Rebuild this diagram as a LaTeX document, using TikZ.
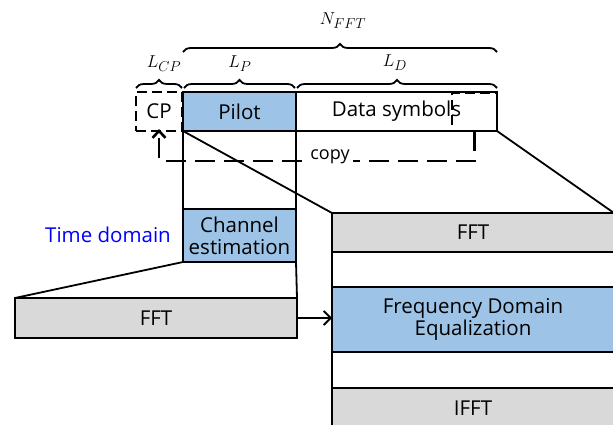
\documentclass[tikz,border=0pt]{standalone}
\usepackage{fontspec}
\newfontfamily\labfont{Open Sans}
\usetikzlibrary{decorations.pathreplacing,arrows.meta}
\definecolor{boxblue}{RGB}{157,195,230}
\definecolor{boxgray}{RGB}{217,217,217}
\begin{document}
\begin{tikzpicture}[x=1pt,y=-1pt,
  box/.style={draw, line width=1.8pt, inner sep=0pt, outer sep=0pt, anchor=north west,
    font=\labfont\fontsize{20.5}{22}\selectfont, align=center},
  dashbox/.style={draw, line width=2.4pt, dash pattern=on 10pt off 5pt, inner sep=0pt, outer sep=0pt, anchor=north west},
  conn/.style={line width=1.8pt},
  brc/.style={line width=1.8pt, decorate, decoration={brace, amplitude=8pt}},
  mlab/.style={font=\fontsize{19}{22}\selectfont}
]
\path[use as bounding box] (0,0) rectangle (613,425);
\clip (0,0) rectangle (613,425);
% top row
\node[box, dashbox, minimum width=46pt, minimum height=39pt, font=\labfont\fontsize{20.5}{22}\selectfont] (cp) at (136,92) {CP};
\node[box, fill=boxblue, minimum width=113pt, minimum height=39pt] (pilot) at (183,92) {Pilot};
\node[box, minimum width=201pt, minimum height=39pt] (data) at (296,92) {Data symbols};
\node[dashbox, minimum width=45pt, minimum height=38pt] (dcopy) at (452,93) {};
% braces
\draw[brc] (136,88) -- (182,88);
\draw[brc] (184,88) -- (295,88);
\draw[brc] (297,88) -- (497,88);
\draw[brc] (183,52) -- (497,52);
\node[mlab] (lcp) at (164,64) {$L_{CP}$};
\node[mlab] (lp) at (240,64) {$L_{P}$};
\node[mlab] (ld) at (395,63) {$L_{D}$};
\node[mlab] (nfft) at (343,21) {$N_{FFT}$};
% copy arrow
\coordinate (cy) at (0,161);
\draw[line width=2.6pt, dash pattern=on 20pt off 9pt, -{Straight Barb[length=7pt,width=13pt]}]
  (dcopy.south) -- (dcopy.south |- cy) -- (cp.south |- cy) -- ([yshift=2pt]cp.south);
\node[fill=white, inner sep=3pt, font=\labfont\fontsize{18}{20}\selectfont] (copy) at (330,157) {copy};
% time domain branch
\node[box, fill=boxblue, minimum width=113pt, minimum height=53pt] (chest) at (183,209) {Channel\\estimation};
\node[box, fill=boxgray, minimum width=282pt, minimum height=40pt] (fft1) at (15,298) {FFT};
\node[font=\labfont\fontsize{20.5}{22}\selectfont, text=blue] (td) at (108,235) {Time domain};
\draw[conn] (pilot.south west) -- (chest.north west);
\draw[conn] (pilot.south east) -- (chest.north east);
\draw[conn] (chest.south west) -- (fft1.north west);
\draw[conn] (chest.south east) -- (fft1.north east);
% frequency domain stack
\node[box, fill=boxgray, minimum width=282pt, minimum height=39pt] (fft2) at (332,213) {FFT};
\node[box, minimum width=282pt, minimum height=35pt] (gap1) at (332,252) {};
\node[box, fill=boxblue, minimum width=282pt, minimum height=65pt] (fde) at (332,287) {Frequency Domain\\Equalization};
\node[box, minimum width=282pt, minimum height=36pt] (gap2) at (332,352) {};
\node[box, fill=boxgray, minimum width=282pt, minimum height=40pt] (ifft) at (332,388) {IFFT};
\draw[conn] (pilot.south west) -- (fft2.north west);
\draw[conn] (data.south east) -- (fft2.north east);
\draw[conn, -{Straight Barb[length=7pt,width=14pt]}] (fft1.east) -- (fft1.east -| fde.west);
\end{tikzpicture}
\end{document}
